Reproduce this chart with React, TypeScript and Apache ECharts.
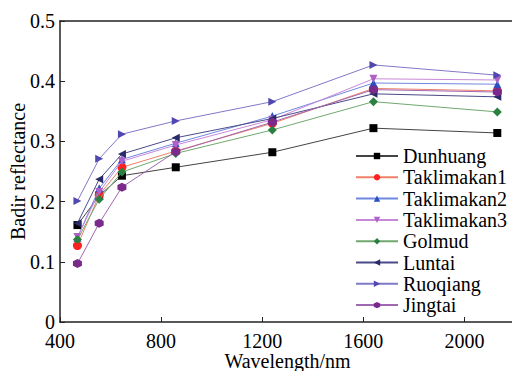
import React, { useEffect, useRef } from "react";
import * as echarts from "echarts";

const wavelengths = [469, 555, 645, 858, 1240, 1640, 2130];
const seriesNames = ["Dunhuang", "Taklimakan1", "Taklimakan2", "Taklimakan3", "Golmud", "Luntai", "Ruoqiang", "Jingtai"];
const dunhuang = [0.161, 0.21, 0.243, 0.257, 0.282, 0.322, 0.314];
const taklimakan1 = [0.127, 0.211, 0.257, 0.284, 0.33, 0.388, 0.384];
const taklimakan2 = [0.14, 0.222, 0.27, 0.297, 0.342, 0.397, 0.395];
const taklimakan3 = [0.141, 0.216, 0.267, 0.294, 0.336, 0.404, 0.402];
const golmud = [0.137, 0.204, 0.249, 0.28, 0.319, 0.366, 0.349];
const luntai = [0.164, 0.237, 0.279, 0.306, 0.338, 0.379, 0.374];
const ruoqiang = [0.201, 0.271, 0.312, 0.334, 0.366, 0.427, 0.41];
const jingtai = [0.097, 0.164, 0.224, 0.283, 0.332, 0.386, 0.382];
const xTicks = [400, 800, 1200, 1600, 2000];

const values = [dunhuang, taklimakan1, taklimakan2, taklimakan3, golmud, luntai, ruoqiang, jingtai];
const markerColors = ["#000000", "#ff2020", "#2a50c0", "#b060c8", "#2a8040", "#2a2a6a", "#5048b0", "#7a2a8a"];
const lineColors = ["#444444", "#f08068", "#7088e0", "#c888d8", "#70a870", "#4a4a88", "#8078c8", "#a068b0"];
const hexagon = "path://M0,-10 L8.66,-5 L8.66,5 L0,10 L-8.66,5 L-8.66,-5 Z";
const symbols = ["rect", "circle", "triangle", "triangle", "diamond", "triangle", "triangle", hexagon];
const rotations = [0, 0, 0, 180, 0, 90, -90, 0];
const sizes = [8, 9, 8, 8, 9, 8, 8, 9];

const FONT = "Times New Roman";

export default function App() {
  const ref = useRef<HTMLDivElement>(null);
  useEffect(() => {
    if (!ref.current) return;
    const chart = echarts.init(ref.current, null, { renderer: "svg" });
    const axisLine = { show: true, lineStyle: { color: "#222", width: 1.5 } };
    chart.setOption({
      animation: false,
      backgroundColor: "#fff",
      textStyle: { fontFamily: FONT },
      grid: { left: 60, top: 21, width: 455, height: 301, outerBoundsMode: "none", containLabel: false },
      legend: {
        orient: "vertical",
        left: 350,
        top: 141,
        itemWidth: 42,
        itemHeight: 8,
        itemGap: 1.3,
        data: seriesNames,
        textStyle: { fontFamily: FONT, fontSize: 20, color: "#000" },
      },
      xAxis: [
        {
          type: "value",
          min: 400,
          max: 2200,
          interval: 400,
          name: "Wavelength/nm",
          nameLocation: "middle",
          nameGap: 29,
          nameMoveOverlap: false,
          nameTextStyle: { fontFamily: FONT, fontSize: 20, color: "#000" },
          axisLine,
          axisTick: { show: true, inside: true, length: 5, lineStyle: { color: "#222" } },
          axisLabel: {
            fontFamily: FONT,
            fontSize: 20,
            color: "#000",
            margin: 9,
            formatter: (v: number) => (xTicks.includes(v) ? String(v) : ""),
          },
          splitLine: { show: false },
        },
        {
          type: "value",
          position: "top",
          min: 400,
          max: 2200,
          axisLine,
          axisTick: { show: false },
          axisLabel: { show: false },
          splitLine: { show: false },
        },
      ],
      yAxis: {
        type: "value",
        min: 0,
        max: 0.5,
        interval: 0.1,
        name: "Badir reflectance",
        nameLocation: "middle",
        nameGap: 32,
        nameMoveOverlap: false,
        nameTextStyle: { fontFamily: FONT, fontSize: 20, color: "#000" },
        axisLine,
        axisTick: { show: true, inside: true, length: 5, lineStyle: { color: "#222" } },
        axisLabel: { fontFamily: FONT, fontSize: 20, color: "#000", margin: 5 },
        splitLine: { show: false },
      },
      series: seriesNames.map((name, i) => ({
        name,
        type: "line",
        xAxisIndex: 0,
        data: wavelengths.map((w, j) => [w, values[i][j]]),
        symbol: symbols[i],
        symbolSize: sizes[i],
        symbolRotate: rotations[i],
        showAllSymbol: true,
        lineStyle: { color: lineColors[i], width: 1 },
        itemStyle: { color: markerColors[i], borderWidth: 0 },
        z: 2 + i,
      })),
    });
    return () => chart.dispose();
  }, []);
  return <div ref={ref} style={{ position: "fixed", left: 0, top: 0, width: 512, height: 371 }} />;
}
